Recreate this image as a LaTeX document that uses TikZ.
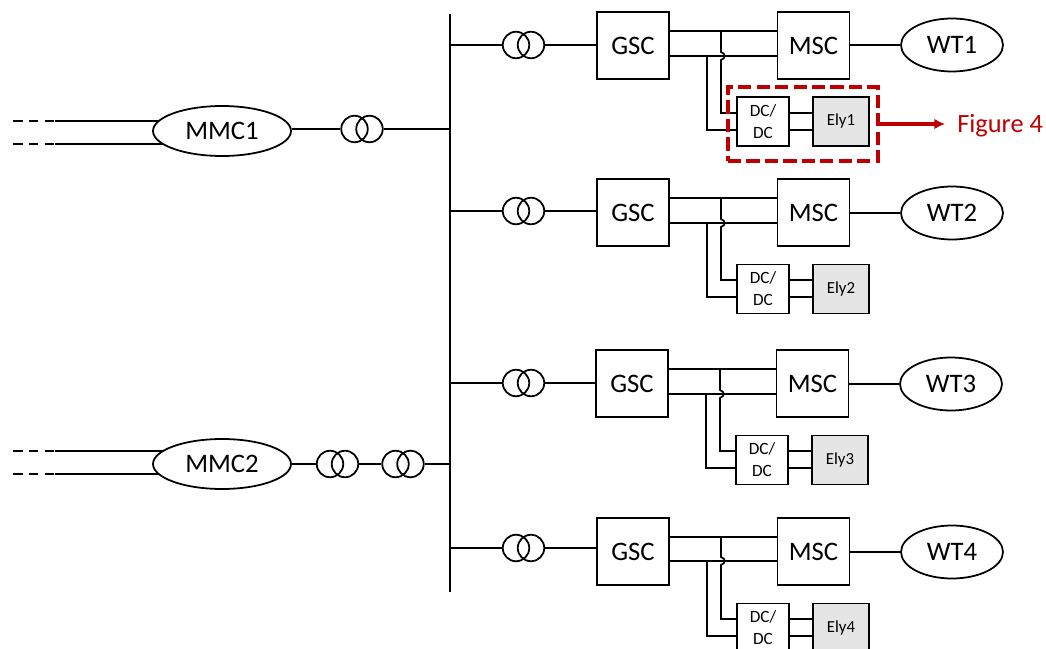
\documentclass[tikz,border=0pt]{standalone}
\usepackage{fontspec}
\setmainfont{Carlito}
\usetikzlibrary{shapes.geometric,arrows.meta}
\definecolor{figred}{RGB}{192,0,0}
\tikzset{
    wire/.style={line width=1pt},
    stub/.style={line width=1pt,dash pattern=on 5.5pt off 3.5pt},
    conv/.style={draw,line width=1pt,fill=white,inner sep=0pt,minimum width=1.44cm,minimum height=1.34cm,font=\fontsize{15.2}{17}\selectfont},
    dcbox/.style={draw,line width=1pt,fill=white,inner sep=0pt,minimum width=1.04cm,minimum height=0.98cm,align=center,font=\fontsize{9.8}{12.5}\selectfont},
    elybox/.style={draw,line width=1pt,fill=black!10,inner sep=0pt,minimum width=1.12cm,minimum height=0.98cm,font=\fontsize{9.6}{11}\selectfont},
    wtgen/.style={ellipse,draw,line width=1pt,fill=white,inner sep=0pt,minimum width=2.04cm,minimum height=1.06cm,font=\fontsize{15.2}{17}\selectfont},
    mmcgen/.style={ellipse,draw,line width=1pt,fill=white,inner sep=0pt,minimum width=2.76cm,minimum height=1cm,font=\fontsize{15.2}{17}\selectfont},
    coil/.style={circle,draw,line width=1pt,inner sep=0pt,minimum size=0.53cm},
}
\begin{document}
\begin{tikzpicture}[x=0.02cm,y=-0.02cm]
    \path[use as bounding box,clip] (0,0) rectangle (1046,649);

    % Bus
    \coordinate (bustop) at (450,14);
    \coordinate (busbot) at (450,592);
    \draw[wire] (bustop) -- (busbot);

    % MMC1
    \node[mmcgen] (mmc1) at (222,131) {MMC1};
    \node[coil] (tm1a) at (354.5,129) {};
    \node[coil] (tm1b) at (369.5,129) {};
    \coordinate (mmc1p) at (159,121);
    \coordinate (mmc1n) at (163,144);
    \coordinate (mmc1pe) at (13,121);
    \coordinate (mmc1ne) at (13,144);
    \draw[wire] (mmc1p) -- ++(-104,0);
    \draw[wire] (mmc1n) -- ++(-108,0);
    \draw[stub] (mmc1pe) -- ++(42,0);
    \draw[stub] (mmc1ne) -- ++(42,0);
    \draw[wire] (tm1a.west -| mmc1.east) -- (tm1a.west);
    \draw[wire] (tm1b.east) -- (tm1b.east -| bustop);

    % MMC2
    \node[mmcgen] (mmc2) at (222,464) {MMC2};
    \node[coil] (tm2a) at (330,464) {};
    \node[coil] (tm2b) at (345,464) {};
    \node[coil] (tm2c) at (395.5,464) {};
    \node[coil] (tm2d) at (410.5,464) {};
    \coordinate (mmc2p) at (163,451);
    \coordinate (mmc2n) at (159,474);
    \coordinate (mmc2pe) at (13,451);
    \coordinate (mmc2ne) at (13,474);
    \draw[wire] (mmc2p) -- ++(-108,0);
    \draw[wire] (mmc2n) -- ++(-104,0);
    \draw[stub] (mmc2pe) -- ++(42,0);
    \draw[stub] (mmc2ne) -- ++(42,0);
    \draw[wire] (mmc2.east) -- (tm2a.west);
    \draw[wire] (tm2b.east) -- (tm2c.west);
    \draw[wire] (tm2d.east) -- (tm2d.east -| busbot);

    % WT1
    \coordinate (a1) at (721,31);
    \coordinate (b1) at (707,56);
    \coordinate (c1) at (737,113);
    \coordinate (d1) at (737,130);
    \draw[wire] (a1) -- ++(0,21) .. controls +(5,2) and +(5,-2) .. ++(0,8) -- (a1 |- c1) -- (c1);
    \draw[wire] (b1) -- (b1 |- d1) -- (d1);
    \node[conv] (gsc1) at (633,45.5) {GSC};
    \node[conv] (msc1) at (813.5,45.5) {MSC};
    \node[wtgen] (wt1) at (952,45) {WT1};
    \node[dcbox] (dc1) at (763,121.5) {DC/\\DC};
    \node[elybox] (ely1) at (841,121.5) {Ely1};
    \node[coil] (t1a) at (516,45) {};
    \node[coil] (t1b) at (531,45) {};
    \draw[wire] (t1a.west) -- (t1a.west -| bustop);
    \draw[wire] (t1b.east) -- (t1b.east -| gsc1.west);
    \draw[wire] (a1 -| gsc1.east) -- (a1 -| msc1.west);
    \draw[wire] (b1 -| gsc1.east) -- (b1 -| msc1.west);
    \draw[wire] (msc1.east |- wt1.west) -- (wt1.west);
    \draw[wire] (c1 -| dc1.east) -- (c1 -| ely1.west);
    \draw[wire] (d1 -| dc1.east) -- (d1 -| ely1.west);

    % Figure 4 callout
    \node[draw=figred,line width=2.3pt,dash pattern=on 7.5pt off 3pt,minimum width=3cm,minimum height=1.48cm,inner sep=0pt] (zoombox) at (803,124) {};
    \node[anchor=west,text=figred,font=\fontsize{15}{17}\selectfont,inner sep=0pt] (figlabel) at (957,125.5) {Figure 4};
    \coordinate (figtip) at (945,124);
    \draw[figred,line width=1.8pt,-{Latex[length=6pt,width=6pt]}] (zoombox.east) -- (figtip);

    % WT2
    \coordinate (a2) at (721,198);
    \coordinate (b2) at (707,223);
    \coordinate (c2) at (737,280);
    \coordinate (d2) at (737,297);
    \draw[wire] (a2) -- ++(0,21) .. controls +(5,2) and +(5,-2) .. ++(0,8) -- (a2 |- c2) -- (c2);
    \draw[wire] (b2) -- (b2 |- d2) -- (d2);
    \node[conv] (gsc2) at (633,212.5) {GSC};
    \node[conv] (msc2) at (813.5,212.5) {MSC};
    \node[wtgen] (wt2) at (952,213) {WT2};
    \node[dcbox] (dc2) at (763,289) {DC/\\DC};
    \node[elybox] (ely2) at (841,289) {Ely2};
    \node[coil] (t2a) at (516,211) {};
    \node[coil] (t2b) at (531,211) {};
    \draw[wire] (t2a.west) -- (t2a.west -| bustop);
    \draw[wire] (t2b.east) -- (t2b.east -| gsc2.west);
    \draw[wire] (a2 -| gsc2.east) -- (a2 -| msc2.west);
    \draw[wire] (b2 -| gsc2.east) -- (b2 -| msc2.west);
    \draw[wire] (msc2.east |- wt2.west) -- (wt2.west);
    \draw[wire] (c2 -| dc2.east) -- (c2 -| ely2.west);
    \draw[wire] (d2 -| dc2.east) -- (d2 -| ely2.west);

    % WT3
    \coordinate (a3) at (720,369);
    \coordinate (b3) at (706,394);
    \coordinate (c3) at (736,451);
    \coordinate (d3) at (736,468);
    \draw[wire] (a3) -- ++(0,21) .. controls +(5,2) and +(5,-2) .. ++(0,8) -- (a3 |- c3) -- (c3);
    \draw[wire] (b3) -- (b3 |- d3) -- (d3);
    \node[conv] (gsc3) at (632,383.5) {GSC};
    \node[conv] (msc3) at (812.5,383.5) {MSC};
    \node[wtgen] (wt3) at (951,384) {WT3};
    \node[dcbox] (dc3) at (762,460) {DC/\\DC};
    \node[elybox] (ely3) at (840,460) {Ely3};
    \node[coil] (t3a) at (516,383) {};
    \node[coil] (t3b) at (531,383) {};
    \draw[wire] (t3a.west) -- (t3a.west -| bustop);
    \draw[wire] (t3b.east) -- (t3b.east -| gsc3.west);
    \draw[wire] (a3 -| gsc3.east) -- (a3 -| msc3.west);
    \draw[wire] (b3 -| gsc3.east) -- (b3 -| msc3.west);
    \draw[wire] (msc3.east |- wt3.west) -- (wt3.west);
    \draw[wire] (c3 -| dc3.east) -- (c3 -| ely3.west);
    \draw[wire] (d3 -| dc3.east) -- (d3 -| ely3.west);

    % WT4
    \coordinate (a4) at (721,537);
    \coordinate (b4) at (707,561);
    \coordinate (c4) at (737,619);
    \coordinate (d4) at (737,636);
    \draw[wire] (a4) -- ++(0,20) .. controls +(5,2) and +(5,-2) .. ++(0,8) -- (a4 |- c4) -- (c4);
    \draw[wire] (b4) -- (b4 |- d4) -- (d4);
    \node[conv] (gsc4) at (633,551.5) {GSC};
    \node[conv] (msc4) at (813.5,551.5) {MSC};
    \node[wtgen] (wt4) at (952,552) {WT4};
    \node[dcbox] (dc4) at (763,628) {DC/\\DC};
    \node[elybox] (ely4) at (841,628) {Ely4};
    \node[coil] (t4a) at (516,548) {};
    \node[coil] (t4b) at (531,548) {};
    \draw[wire] (t4a.west) -- (t4a.west -| busbot);
    \draw[wire] (t4b.east) -- (t4b.east -| gsc4.west);
    \draw[wire] (a4 -| gsc4.east) -- (a4 -| msc4.west);
    \draw[wire] (b4 -| gsc4.east) -- (b4 -| msc4.west);
    \draw[wire] (msc4.east |- wt4.west) -- (wt4.west);
    \draw[wire] (c4 -| dc4.east) -- (c4 -| ely4.west);
    \draw[wire] (d4 -| dc4.east) -- (d4 -| ely4.west);

\end{tikzpicture}
\end{document}
